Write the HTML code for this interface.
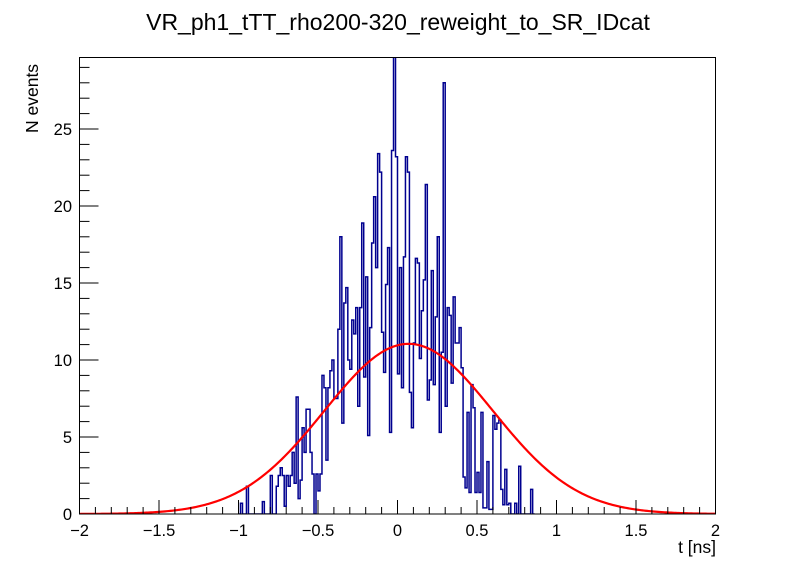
<!DOCTYPE html>
<html><head><meta charset="utf-8"><style>
body{margin:0;background:#fff}
svg{display:block;font-family:"Liberation Sans",sans-serif}
</style></head><body>
<svg id="chart" width="796" height="572" viewBox="0 0 796 572" xmlns="http://www.w3.org/2000/svg">
<rect x="0" y="0" width="796" height="572" fill="#fff"/>
<text x="398" y="30" font-size="23" text-anchor="middle">VR_ph1_tTT_rho200-320_reweight_to_SR_IDcat</text>
<text transform="translate(38,133) rotate(-90)" font-size="17.5" text-anchor="start">N events</text>
<text x="716" y="553" font-size="17.5" text-anchor="end">t [ns]</text>
<g id="plot"></g>
<rect x="79.5" y="57.5" width="636" height="456.5" fill="none" stroke="#000" stroke-width="1"/>
</svg>
<script>
const binStart = -1.0;
const binWidth = 0.0125;
const counts = [0,0.7,0,0,1.8,0,0,0,0,0,0,0,0.8,0,0,0,2.5,0,0,1.8,2.5,3,2.5,0.5,2.5,1.8,
2.5,4,2.0,7.6,1,2.2,5.6,4,6.8,6.8,4,2.6,0,2.6,1.5,2.6,9,8.2,3.5,8.2,9.3,10,7.5,7.5,12,18,5.9,13.7,14.7,10,9.4,12.6,11.7,13.4,7,13.4,
18.9,8.9,15.4,5.1,12.1,17.6,20.6,16,23.4,22.2,11.8,9.2,14.9,17.3,5.3,23.6,31,23.2,9.1,16,8.2,16.7,23.2,22.2,7.9,5.6,11.1,16.6,16.3,10.1,13.2,15.2,
21.4,7.4,8.7,15.8,8.4,12.8,18,5.3,10.5,28,7,13.4,12.9,8.5,14.1,11.1,11.1,12.1,9.5,2.4,1.7,6.6,1.4,8.4,6.9,1.4,2.7,1.4,6.6,0.4,0.4,3.4,0.3,0.3,6.4,5.5,
5.9,6.1,1.6,0.6,2.9,0.6,0.7,0,0,0.7,0,3.1,0,0,0,0,0,1.6,0];
const fitAmp = 11.05;
const fitMean = 0.07;
const fitSigma = 0.53;
const xTicks = [-2,-1.5,-1,-0.5,0,0.5,1,1.5,2];
const xTickLabels = ["\u22122","\u22121.5","\u22121","\u22120.5","0","0.5","1","1.5","2"];
const yTicks = [0,5,10,15,20,25];
const yTickLabels = ["0","5","10","15","20","25"];

const NS="http://www.w3.org/2000/svg";
const X0=79.5,X1=715.5,Y0=514,YT=57.5;
const xMin=-2,xMax=2,yMax=(Y0-YT)/15.4;
const sx=v=>X0+(v-xMin)/(xMax-xMin)*(X1-X0);
const sy=v=>Y0-Math.min(v,yMax+1)/yMax*(Y0-YT);
const plot=document.getElementById('plot');
function mk(tag,attrs){const e=document.createElementNS(NS,tag);for(const k in attrs)e.setAttribute(k,attrs[k]);return e;}

const defs=mk('defs',{});const cp=mk('clipPath',{id:'clip'});cp.appendChild(mk('rect',{x:X0,y:YT,width:X1-X0,height:Y0-YT}));defs.appendChild(cp);plot.appendChild(defs);

let d='M'+sx(binStart)+','+sy(0);
counts.forEach((c,i)=>{const a=sx(binStart+i*binWidth),b=sx(binStart+(i+1)*binWidth);d+=' L'+a+','+sy(c)+' L'+b+','+sy(c);});
d+=' L'+sx(binStart+counts.length*binWidth)+','+sy(0);
const hist=mk('path',{d:d,fill:'none',stroke:'#00008f','stroke-width':1.5,'clip-path':'url(#clip)'});


plot.appendChild(hist);

let f='';
for(let i=0;i<=400;i++){const t=xMin+i*(xMax-xMin)/400;const v=fitAmp*Math.exp(-Math.pow(t-fitMean,2)/(2*fitSigma*fitSigma));f+=(i?' L':'M')+sx(t).toFixed(2)+','+sy(v).toFixed(2);}
const fit=mk('path',{d:f,fill:'none',stroke:'#ff0000','stroke-width':2.2,'clip-path':'url(#clip)'});


plot.appendChild(fit);

for(let i=0;i<=40;i++){const t=xMin+i*0.1;const major=i%5===0;const x=sx(t);
const ln=mk('line',{x1:x,x2:x,y1:Y0,y2:Y0-(major?14:7),stroke:'#000','stroke-width':1});


plot.appendChild(ln);}
xTicks.forEach((t,i)=>{const tx=mk('text',{x:sx(t),y:536,'font-size':16.5,'text-anchor':'middle'});tx.textContent=xTickLabels[i];


plot.appendChild(tx);});

for(let v=0;v<=Math.floor(yMax);v++){const major=v%5===0;const y=sy(v);
const ln=mk('line',{x1:X0,x2:X0+(major?19:10),y1:y,y2:y,stroke:'#000','stroke-width':1});


plot.appendChild(ln);}
yTicks.forEach((v,i)=>{const tx=mk('text',{x:72,y:sy(v)+6,'font-size':16.5,'text-anchor':'end'});tx.textContent=yTickLabels[i];


plot.appendChild(tx);});
</script>
</body></html>
